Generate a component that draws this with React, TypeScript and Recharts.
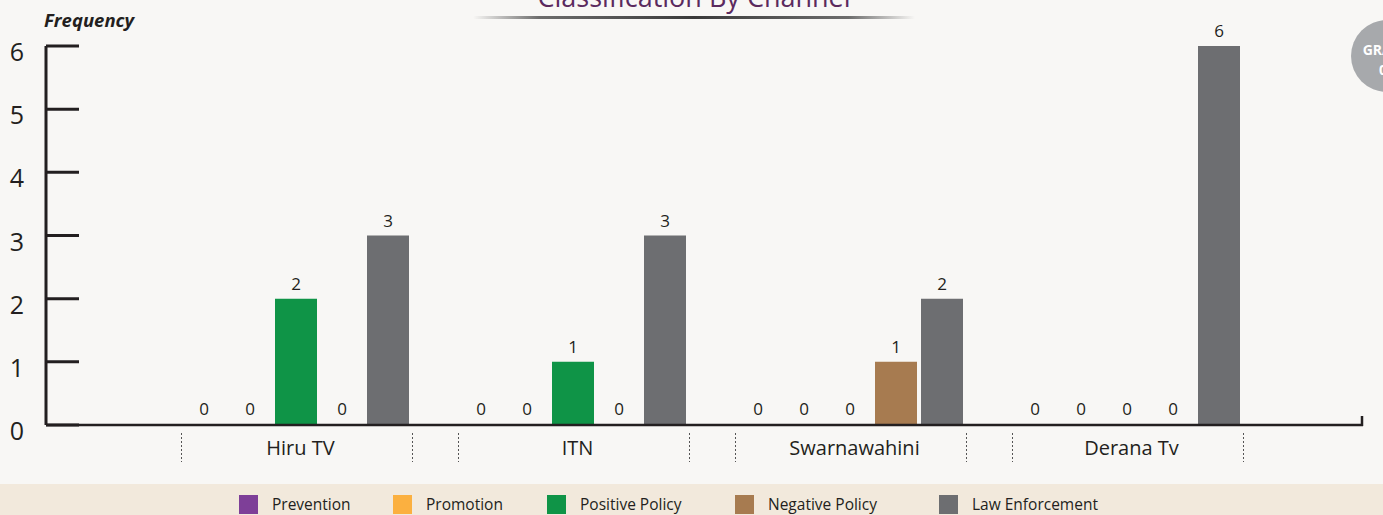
import { BarChart, Bar, XAxis, YAxis, LabelList } from 'recharts';

const CHANNELS = ['Hiru TV', 'ITN', 'Swarnawahini', 'Derana Tv'];
const PREVENTION = [0, 0, 0, 0];
const PROMOTION = [0, 0, 0, 0];
const POSITIVE_POLICY = [2, 1, 0, 0];
const NEGATIVE_POLICY = [0, 0, 1, 0];
const LAW_ENFORCEMENT = [3, 3, 2, 6];
const Y_TICKS = [0, 1, 2, 3, 4, 5, 6];

const TITLE = 'Classification By Channel';
const Y_LABEL = 'Frequency';

const SERIES = [
  { key: 'prevention', name: 'Prevention', values: PREVENTION, color: '#7e3f98' },
  { key: 'promotion', name: 'Promotion', values: PROMOTION, color: '#fbb040' },
  { key: 'positive', name: 'Positive Policy', values: POSITIVE_POLICY, color: '#0f9447' },
  { key: 'negative', name: 'Negative Policy', values: NEGATIVE_POLICY, color: '#a77b50' },
  { key: 'law', name: 'Law Enforcement', values: LAW_ENFORCEMENT, color: '#6d6e71' },
];

// legend item widths (square start to next square start)
const LEGEND_WIDTHS = [154, 154, 188, 204, 150];

const FONT = '"Open Sans", "Noto Sans", sans-serif';
const INK = '#231f20';
const BG = '#f8f7f5';

const chartData = CHANNELS.map((name, i) => {
  const row: Record<string, string | number> = { name };
  SERIES.forEach((s) => {
    row[s.key] = s.values[i];
  });
  return row;
});

function YTick({ x, y, payload }: any) {
  return (
    <g>
      <line x1={x} x2={x + 33} y1={y} y2={y} stroke={INK} strokeWidth={3} />
      <text x={x - 29} y={y + 5} textAnchor="middle" dominantBaseline="central" fontSize={25} fill={INK} fontFamily={FONT}>
        {payload.value}
      </text>
    </g>
  );
}

function XTick({ x, y, payload }: any) {
  return (
    <g>
      <line x1={x - 114} x2={x - 114} y1={y + 8} y2={y + 37} stroke="#555" strokeWidth={1} strokeDasharray="2 2" />
      <line x1={x + 117} x2={x + 117} y1={y + 8} y2={y + 37} stroke="#555" strokeWidth={1} strokeDasharray="2 2" />
      <text x={x + 5} y={y + 22} textAnchor="middle" dominantBaseline="central" fontSize={20} fill={INK} fontFamily={FONT}>
        {payload.value}
      </text>
    </g>
  );
}

export default function App() {
  let legendX = 239;
  const legendItems = SERIES.map((s, i) => {
    const x = legendX;
    legendX += LEGEND_WIDTHS[i];
    return (
      <g key={s.key}>
        <rect x={x} y={495} width={19} height={19} fill={s.color} />
        <text x={x + 33} y={510} fontSize={15.5} fill={INK} fontFamily={FONT}>
          {s.name}
        </text>
      </g>
    );
  });

  return (
    <div style={{ position: 'absolute', left: 0, top: 0, width: 1383, height: 515, overflow: 'hidden', background: BG, fontFamily: FONT }}>
      <BarChart
        width={1383}
        height={484}
        data={chartData}
        margin={{ top: 46, right: 20, bottom: 0, left: 0 }}
        barSize={42}
        barGap={4}
      >
        <XAxis
          dataKey="name"
          height={59}
          padding={{ left: 111, right: 98 }}
          axisLine={{ stroke: INK, strokeWidth: 2.5 }}
          tickLine={false}
          tickSize={0}
          tickMargin={0}
          tick={<XTick />}
          interval={0}
        />
        <YAxis
          width={46}
          domain={[0, 6]}
          ticks={Y_TICKS}
          axisLine={{ stroke: INK, strokeWidth: 3 }}
          tickLine={false}
          tickSize={0}
          tickMargin={0}
          tick={<YTick />}
          interval={0}
        />
        {SERIES.map((s) => (
          <Bar key={s.key} dataKey={s.key} name={s.name} fill={s.color} minPointSize={1} isAnimationActive={false}>
            <LabelList dataKey={s.key} position="top" offset={9} fontSize={17} fill={INK} fontFamily={FONT} />
          </Bar>
        ))}
      </BarChart>
      <svg width={1383} height={515} style={{ position: 'absolute', left: 0, top: 0, pointerEvents: 'none' }}>
        <defs>
          <linearGradient id="titleRule" x1="0" x2="1" y1="0" y2="0">
            <stop offset="0" stopColor="#4a4a4a" stopOpacity={0} />
            <stop offset="0.15" stopColor="#4a4a4a" stopOpacity={0.8} />
            <stop offset="0.5" stopColor="#3a3a3a" stopOpacity={1} />
            <stop offset="0.85" stopColor="#4a4a4a" stopOpacity={0.8} />
            <stop offset="1" stopColor="#4a4a4a" stopOpacity={0} />
          </linearGradient>
        </defs>
        <text x={694} y={7} textAnchor="middle" fontSize={27} fill="#5b2a5e" fontFamily={FONT}>
          {TITLE}
        </text>
        <rect x={473} y={16} width={442} height={3} rx={1.5} fill="url(#titleRule)" />
        <text x={44} y={27} fontSize={18.5} fontWeight="bold" fontStyle="italic" fill={INK} fontFamily={FONT}>
          {Y_LABEL}
        </text>
        <circle cx={1387} cy={56} r={36} fill="#a7a9ac" />
        <text x={1387} y={55} textAnchor="middle" fontSize={14} fontWeight="bold" fill="#fff" fontFamily={FONT}>
          GRAPH
        </text>
        <text x={1387} y={75} textAnchor="middle" fontSize={14} fontWeight="bold" fill="#fff" fontFamily={FONT}>
          01
        </text>
        <line x1={1362} x2={1362} y1={416} y2={426} stroke={INK} strokeWidth={2.5} />
        <rect x={0} y={484} width={1383} height={31} fill="#f2e9dc" />
        {legendItems}
      </svg>
    </div>
  );
}
